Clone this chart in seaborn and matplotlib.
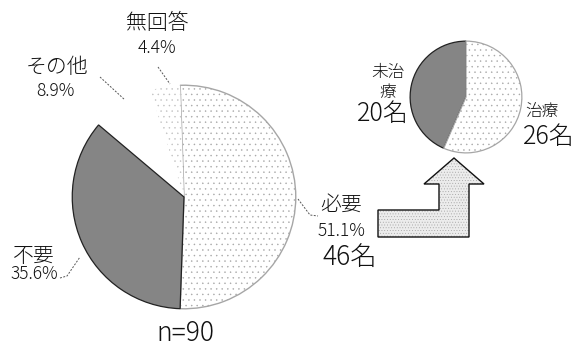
import matplotlib
matplotlib.use("Agg")
import matplotlib.pyplot as plt
import seaborn as sns
from matplotlib.patches import Polygon
from matplotlib.lines import Line2D

# ---- data ----
main_labels = ["必要", "無回答", "その他", "不要"]
main_pct = [51.1, 4.4, 8.9, 35.6]
sub_labels = ["未治療", "治療"]
sub_counts = [20, 26]
need_count = 46
n_total = 90

sns.set_theme(style="white")
plt.rcParams['font.family'] = ['Noto Sans CJK JP', 'DejaVu Sans']
plt.rcParams['hatch.linewidth'] = 0.3

W, H = 579, 352
fig = plt.figure(figsize=(W / 100, H / 100), dpi=100)
fig.patch.set_facecolor("white")

def fx(x):
    return x / W

def fy(y):
    return 1 - y / H

def axes_px(cx, cy, r):
    return fig.add_axes([fx(cx - r), fy(cy + r), 2 * r / W, 2 * r / H])

# main pie
ax = axes_px(184, 197, 114)
wedges, _ = ax.pie(main_pct, startangle=-92, counterclock=True,
                   wedgeprops=dict(linewidth=0.8))
styles = [
    dict(fc="white", ec="#a6a6a6", hatch="...", lw=1.0),
    dict(fc="white", ec="#c0c0c0", hatch="...", lw=0.0),
    dict(fc="white", ec="white", hatch=None, lw=0.0),
    dict(fc="#858585", ec="#222222", hatch=None, lw=0.9),
]
for w, s in zip(wedges, styles):
    w.set_facecolor(s["fc"])
    w.set_edgecolor(s["ec"])
    if s["hatch"]:
        w.set_hatch(s["hatch"])
    w.set_linewidth(s["lw"])
ax.set_xlim(-1.02, 1.02)
ax.set_ylim(-1.02, 1.02)
ax.set_aspect("equal")
ax.axis("off")

# sub pie
ax2 = axes_px(466, 97, 57)
w2, _ = ax2.pie(sub_counts, startangle=90, counterclock=True,
                wedgeprops=dict(linewidth=0.9))
w2[0].set_facecolor("#858585"); w2[0].set_edgecolor("#222222")
w2[1].set_facecolor("white"); w2[1].set_edgecolor("#a6a6a6")
w2[1].set_hatch("...")
ax2.set_xlim(-1.02, 1.02)
ax2.set_ylim(-1.02, 1.02)
ax2.set_aspect("equal")
ax2.axis("off")

def t(x, y, s, size, **kw):
    fig.text(fx(x), fy(y), s, fontsize=size, ha="center", va="center",
             color="#111111", fontweight="light", **kw)

def fmt(v):
    return f"{v:.1f}%"

# main labels
t(157, 23, main_labels[1], 15)
t(157, 48, fmt(main_pct[1]), 12.5)
t(57, 67, main_labels[2], 15)
t(55, 91, fmt(main_pct[2]), 12.5)
t(34, 256, main_labels[3], 15)
t(34, 274, fmt(main_pct[3]), 12.5)
t(341, 205, main_labels[0], 15)
t(342, 231, fmt(main_pct[0]), 12.5)
t(350, 257, f"{need_count}名", 19)
t(185, 333, f"n={n_total}", 19)

# sub labels
t(388, 72, sub_labels[0][:2], 12)
t(388, 92, sub_labels[0][2:], 12)
t(383, 114, f"{sub_counts[0]}名", 18)
t(542, 112, sub_labels[1], 12)
t(549, 137, f"{sub_counts[1]}名", 18)

# leader lines
def leader(pts):
    xs = [fx(p[0]) for p in pts]
    ys = [fy(p[1]) for p in pts]
    fig.add_artist(Line2D(xs, ys, lw=0.7, color="#555555", ls=(0, (2, 1.5)),
                          transform=fig.transFigure))

leader([(158, 67), (170, 84)])
leader([(100, 77), (125, 100)])
leader([(60, 278), (67, 276), (80, 257)])
leader([(298, 199), (310, 215), (318, 216)])

# L-shaped arrow
arrow_px = [(378, 210), (439, 210), (439, 184), (424, 184), (454, 158),
            (484, 184), (469, 184), (469, 237), (378, 237)]
poly = Polygon([(fx(x), fy(y)) for x, y in arrow_px], closed=True,
               transform=fig.transFigure, facecolor="#ececec",
               edgecolor="#a0a0a0", lw=0.0, hatch="......")
fig.add_artist(poly)
poly2 = Polygon([(fx(x), fy(y)) for x, y in arrow_px], closed=True,
                transform=fig.transFigure, facecolor="none",
                edgecolor="#111111", lw=1.0)
fig.add_artist(poly2)

fig.savefig("out.png", dpi=100, facecolor="white")
